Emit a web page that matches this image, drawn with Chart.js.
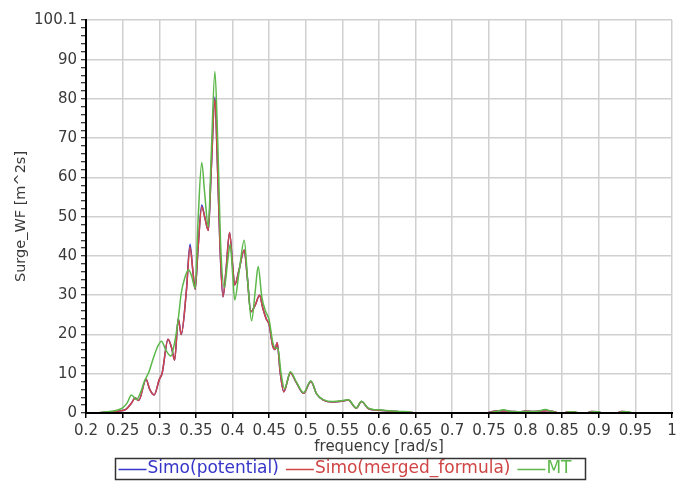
<!DOCTYPE html>
<html>
<head>
<meta charset="utf-8">
<script src="https://cdn.jsdelivr.net/npm/chart.js@4.4.1/dist/chart.umd.min.js"></script>
<style>
  html, body { margin: 0; padding: 0; background: #ffffff; }
  #wrap { width: 690px; height: 488px; position: relative; }
</style>
</head>
<body>
<div id="wrap"><canvas id="surge" width="690" height="488"></canvas></div>
<script>
// Surge wave-frequency spectrum: Simo (potential / merged formula) against MT

// Frequency samples [rad/s] for the Simo runs
const freqSimo = [
  0.215, 0.225, 0.235, 0.245, 0.255, 0.262, 0.267, 0.272, 0.282, 0.287,
  0.293, 0.300, 0.304, 0.312, 0.317, 0.321, 0.326, 0.330, 0.337, 0.342,
  0.346, 0.349, 0.353, 0.358, 0.362, 0.367, 0.371, 0.376, 0.379, 0.383,
  0.387, 0.391, 0.396, 0.400, 0.403, 0.409, 0.416, 0.420, 0.425, 0.431,
  0.437, 0.441, 0.446, 0.450, 0.455, 0.458, 0.461, 0.465, 0.470, 0.479,
  0.487, 0.497, 0.507, 0.515, 0.524, 0.537, 0.549, 0.558, 0.569, 0.576,
  0.585, 0.592, 0.600, 0.614, 0.628, 0.640, 0.650,
  0.745, 0.755, 0.762, 0.772, 0.782, 0.792, 0.800, 0.810, 0.820, 0.830,
  0.838, 0.845, 0.852, 0.858, 0.866, 0.872, 0.884, 0.890, 0.898, 0.904,
  0.925, 0.931, 0.938, 0.944
];

// Surge_WF [m^2s], Simo(merged_formula)
const simoMerged = [
  0.0, 0.2, 0.3, 0.5, 1.0, 2.5, 3.8, 3.2, 8.6, 6.0,
  4.6, 8.5, 10.2, 18.8, 16.5, 13.5, 24.0, 20.0, 31.0, 42.3,
  36.0, 31.5, 42.0, 52.5, 50.0, 46.5, 62.0, 80.0, 66.0, 42.0,
  29.6, 36.0, 46.0, 38.0, 32.6, 36.5, 41.5, 35.0, 25.8, 27.5,
  30.0, 27.0, 24.0, 22.5, 17.0, 16.2, 17.9, 10.5, 5.4, 10.2,
  7.8, 5.0, 8.0, 4.8, 3.3, 2.8, 3.0, 3.3, 1.2, 2.9,
  1.2, 0.8, 0.7, 0.5, 0.3, 0.2, 0.0,
  0.0, 0.4, 0.6, 0.5, 0.4, 0.3, 0.5, 0.4, 0.5, 0.6,
  0.4, 0.0, 0.0, 0.35, 0.3, 0.0, 0.0, 0.4, 0.35, 0.0,
  0.0, 0.4, 0.35, 0.0
];

// Surge_WF [m^2s], Simo(potential)
const simoPotential = [
  0.0, 0.2, 0.3, 0.5, 1.0, 2.5, 3.8, 3.2, 8.6, 6.0,
  4.6, 8.5, 10.2, 18.8, 16.5, 13.5, 24.0, 20.0, 31.0, 43.0,
  36.0, 31.5, 42.0, 53.0, 50.0, 46.5, 62.0, 80.5, 66.0, 42.0,
  29.6, 36.0, 46.0, 38.0, 32.6, 36.5, 41.5, 35.0, 25.8, 27.5,
  30.0, 27.0, 24.0, 22.5, 17.0, 16.2, 17.9, 10.5, 5.4, 10.2,
  7.8, 5.0, 8.0, 4.8, 3.3, 2.8, 3.0, 3.3, 1.2, 2.9,
  1.2, 0.8, 0.7, 0.5, 0.3, 0.2, 0.0,
  0.0, 0.4, 0.6, 0.5, 0.4, 0.3, 0.5, 0.4, 0.5, 0.6,
  0.4, 0.0, 0.0, 0.35, 0.3, 0.0, 0.0, 0.4, 0.35, 0.0,
  0.0, 0.4, 0.35, 0.0
];

// Frequency samples [rad/s] for MT
const freqMT = [
  0.215, 0.222, 0.232, 0.242, 0.250, 0.256, 0.262, 0.269, 0.275, 0.280,
  0.286, 0.292, 0.298, 0.303, 0.309, 0.316, 0.321, 0.326, 0.330, 0.335,
  0.340, 0.344, 0.349, 0.353, 0.358, 0.362, 0.367, 0.371, 0.376, 0.380,
  0.384, 0.389, 0.393, 0.397, 0.400, 0.403, 0.409, 0.416, 0.421, 0.426,
  0.431, 0.435, 0.440, 0.445, 0.450, 0.455, 0.459, 0.462, 0.466, 0.471,
  0.479, 0.487, 0.497, 0.507, 0.515, 0.524, 0.537, 0.549, 0.558, 0.569,
  0.576, 0.585, 0.592, 0.600, 0.614, 0.628, 0.640, 0.652,
  0.745, 0.758, 0.770, 0.780, 0.790, 0.800, 0.815, 0.827, 0.836, 0.845,
  0.852, 0.860, 0.868, 0.874, 0.884, 0.892, 0.900, 0.905, 0.925, 0.932,
  0.940, 0.946
];

// Surge_WF [m^2s], MT
const mtValues = [
  0.0, 0.2, 0.4, 0.7, 1.3, 2.5, 4.6, 3.4, 5.5, 8.2,
  10.5, 14.0, 17.0, 18.3, 16.0, 14.5, 18.0, 24.0, 30.5, 34.5,
  36.5, 35.0, 31.8, 49.0, 63.8, 56.0, 47.4, 66.0, 87.0, 68.0,
  42.0, 32.0, 38.0, 43.0, 36.0, 28.8, 36.0, 44.0, 33.0, 23.5,
  31.0, 37.3, 29.6, 26.0, 23.7, 18.0, 16.5, 16.5, 10.5, 6.2,
  10.5, 8.0, 5.2, 8.2, 4.8, 3.4, 2.9, 3.1, 3.4, 1.3,
  3.0, 1.3, 0.9, 0.8, 0.6, 0.4, 0.3, 0.0,
  0.0, 0.3, 0.8, 0.4, 0.3, 0.4, 0.4, 0.9, 0.4, 0.0,
  0.0, 0.3, 0.25, 0.0, 0.0, 0.35, 0.3, 0.0, 0.0, 0.3,
  0.3, 0.0
];

// Axis ticks
const xTicks = [0.2, 0.25, 0.3, 0.35, 0.4, 0.45, 0.5, 0.55, 0.6, 0.65, 0.7, 0.75, 0.8, 0.85, 0.9, 0.95, 1];
const yMajorTicks = [0, 10, 20, 30, 40, 50, 60, 70, 80, 90, 100.1];

const seriesNames = ['Simo(potential)', 'Simo(merged_formula)', 'MT'];
const seriesColors = ['#3535c8', '#d04545', '#5cb84a'];

const toPoints = (xs, ys) => xs.map((x, i) => ({ x: x, y: ys[i] }));

Chart.defaults.font.family = '"DejaVu Sans", sans-serif';
Chart.defaults.color = '#3a3a3a';

const GRID = '#d0d0d0';
const LEGEND_LINE = 28;

// Keeps the bottom axis line over the curves, draws the legend line keys and frames the legend
const axisAndLegendFrame = {
  id: 'axisAndLegendFrame',
  afterDatasetsDraw(chart) {
    const { ctx, chartArea } = chart;
    ctx.save();
    ctx.strokeStyle = '#000';
    ctx.lineWidth = 2;
    ctx.beginPath();
    ctx.moveTo(chartArea.left - 1, chartArea.bottom);
    ctx.lineTo(chartArea.right + 1, chartArea.bottom);
    ctx.stroke();
    ctx.restore();
  },
  afterDraw(chart) {
    const boxes = chart.legend && chart.legend.legendHitBoxes;
    if (!boxes || !boxes.length) return;
    const ctx = chart.ctx;
    ctx.save();
    let l = Infinity, r = -Infinity, t = Infinity, b = -Infinity;
    boxes.forEach((h, i) => {
      l = Math.min(l, h.left);
      r = Math.max(r, h.left + h.width);
      t = Math.min(t, h.top);
      b = Math.max(b, h.top + h.height);
      const yMid = Math.round(h.top + h.height / 2) + 0.5;
      ctx.strokeStyle = seriesColors[i];
      ctx.lineWidth = 1.5;
      ctx.beginPath();
      ctx.moveTo(h.left, yMid);
      ctx.lineTo(h.left + LEGEND_LINE, yMid);
      ctx.stroke();
    });
    ctx.strokeStyle = '#333';
    ctx.lineWidth = 1.5;
    ctx.strokeRect(Math.round(l - 4) + 0.5, Math.round(t - 2) + 0.5, Math.round(r - l + 17), Math.round(b - t + 4));
    ctx.restore();
  }
};

const lineStyle = (i) => ({
  borderColor: seriesColors[i],
  backgroundColor: seriesColors[i],
  borderWidth: 1.5,
  pointRadius: 0,
  fill: false,
  cubicInterpolationMode: 'monotone'
});

new Chart(document.getElementById('surge'), {
  type: 'line',
  data: {
    datasets: [
      Object.assign({ label: seriesNames[0], data: toPoints(freqSimo, simoPotential), order: 3 }, lineStyle(0)),
      Object.assign({ label: seriesNames[1], data: toPoints(freqSimo, simoMerged), order: 2 }, lineStyle(1)),
      Object.assign({ label: seriesNames[2], data: toPoints(freqMT, mtValues), order: 1 }, lineStyle(2))
    ]
  },
  options: {
    responsive: false,
    animation: false,
    devicePixelRatio: 1,
    layout: { padding: { left: 9, right: 9, top: 20, bottom: 1 } },
    plugins: {
      tooltip: { enabled: false },
      legend: {
        position: 'bottom',
        labels: {
          font: { size: 17 },
          padding: 7,
          usePointStyle: true,
          pointStyle: 'line',
          pointStyleWidth: 20.5,
          sort: (a, b) => a.datasetIndex - b.datasetIndex,
          generateLabels(chart) {
            const items = Chart.defaults.plugins.legend.labels.generateLabels(chart);
            items.forEach(it => {
              it.fontColor = seriesColors[it.datasetIndex];
              it.strokeStyle = 'rgba(0,0,0,0)';
              it.lineWidth = 0;
            });
            return items;
          }
        }
      }
    },
    scales: {
      x: {
        type: 'linear',
        min: 0.2,
        max: 1,
        afterBuildTicks(scale) { scale.ticks = xTicks.map(v => ({ value: v })); },
        afterFit(scale) { scale.height = 40; },
        ticks: {
          autoSkip: false,
          maxRotation: 0,
          padding: 4,
          font: { size: 15 },
          color: '#3a3a3a',
          callback: (v) => String(v)
        },
        grid: { color: GRID, lineWidth: 1.5, tickColor: '#000', tickLength: 5, tickWidth: 1.5 },
        border: { color: '#000', width: 2 },
        title: { display: true, text: 'frequency [rad/s]', font: { size: 15 }, color: '#3a3a3a', padding: { top: 0, bottom: -3 } }
      },
      y: {
        type: 'linear',
        min: 0,
        max: 100.1,
        afterBuildTicks(scale) {
          const t = [];
          for (let i = 0; i < yMajorTicks.length - 1; i++) {
            const a = yMajorTicks[i], b = yMajorTicks[i + 1];
            t.push({ value: a });
            for (let m = a + 2; m < Math.min(b, a + 10) - 0.5; m += 2) t.push({ value: m });
          }
          t.push({ value: yMajorTicks[yMajorTicks.length - 1] });
          scale.ticks = t;
        },
        afterFit(scale) { scale.width = 77; },
        ticks: {
          autoSkip: false,
          padding: 4,
          font: { size: 15 },
          color: '#3a3a3a',
          callback: (v) => (yMajorTicks.includes(v) ? String(v) : '')
        },
        grid: {
          color: (c) => (c.tick && yMajorTicks.includes(c.tick.value) ? GRID : 'rgba(0,0,0,0)'),
          lineWidth: 1.5,
          tickColor: '#000',
          tickLength: 5,
          tickWidth: 1
        },
        border: { color: '#000', width: 2 },
        title: { display: true, text: 'Surge_WF [m^2s]', font: { size: 14.5 }, color: '#3a3a3a', padding: { top: 4, bottom: 0 } }
      },
      yRight: {
        type: 'linear',
        position: 'right',
        display: true,
        grid: { display: false },
        ticks: { display: false },
        border: { display: false },
        afterFit(scale) { scale.width = 9; }
      }
    }
  },
  plugins: [axisAndLegendFrame]
});
</script>
</body>
</html>
